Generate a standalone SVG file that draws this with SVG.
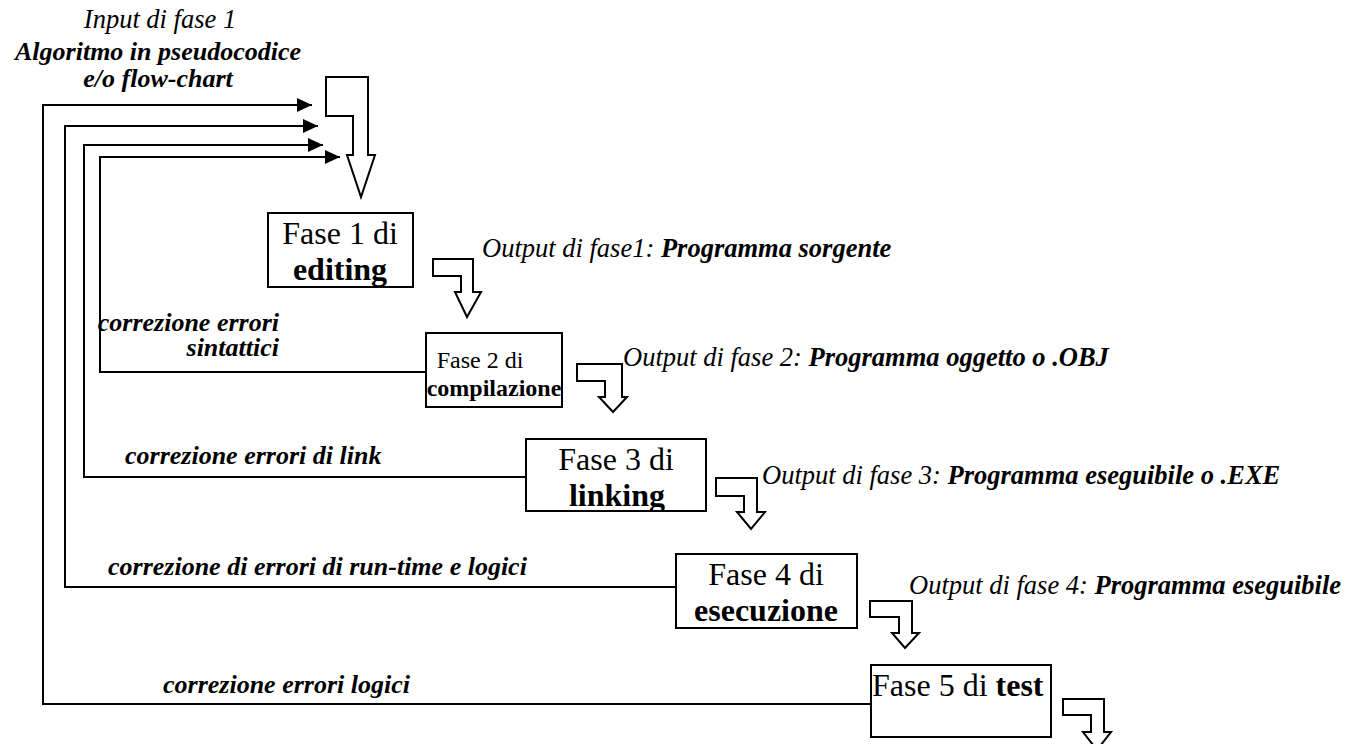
<svg xmlns="http://www.w3.org/2000/svg" width="1358" height="744" viewBox="0 0 1358 744">
<style>
.box{fill:#fff;stroke:#000;stroke-width:2}
.ln{fill:none;stroke:#000;stroke-width:2}
.arr{fill:#fff;stroke:#000;stroke-width:2;stroke-linejoin:miter}
</style>
<defs>
<marker id="ah" markerUnits="userSpaceOnUse" markerWidth="16" markerHeight="14" refX="15" refY="7" orient="auto"><path d="M0,0 L15,7 L0,14 Z" fill="#000"/></marker>
<clipPath id="c1"><rect x="269" y="214" width="143" height="72"/></clipPath>
<clipPath id="c3"><rect x="527" y="440" width="178" height="70"/></clipPath>
</defs>

<g id="input-label" font-family="Liberation Serif, serif" font-size="26" font-style="italic">
<text x="160" y="28" text-anchor="middle" font-size="26.5">Input di fase 1</text>
<text x="158" y="60" text-anchor="middle" font-weight="bold">Algoritmo in pseudocodice</text>
<text x="158" y="87" text-anchor="middle" font-weight="bold">e/o flow-chart</text>
</g>

<g id="connectors">
<path class="ln" d="M871,704 H43 V105 H312" marker-end="url(#ah)"/>
<path class="ln" d="M676,587 H65 V126 H318" marker-end="url(#ah)"/>
<path class="ln" d="M526,477 H84 V145 H323" marker-end="url(#ah)"/>
<path class="ln" d="M426,372 H100 V157 H340" marker-end="url(#ah)"/>
<path class="arr" d="M326,77 H368 V155 H375 L361,197 L347,155 H353 V116 H326 Z"/>
<path class="arr" d="M433,259 H473 V292 H481 L467,317 L455,292 H461 V276 H433 Z"/>
<path class="arr" d="M577,364 H622 V397 H627 L613,412 L599,397 H605 V381 H577 Z"/>
<path class="arr" d="M716,478 H757 V512 H765 L751,529 L737,512 H744 V496 H716 Z"/>
<path class="arr" d="M870,601 H912 V633 H919 L905,648 L892,633 H899 V617 H870 Z"/>
<path class="arr" d="M1063,699 H1104 V732 H1111 L1097,750 L1083,732 H1091 V715 H1063 Z"/>
</g>

<g id="labels" font-family="Liberation Serif, serif" font-size="26" font-style="italic">
<text x="279" y="331" text-anchor="end" font-weight="bold">correzione errori</text>
<text x="279" y="356" text-anchor="end" font-weight="bold">sintattici</text>
<text x="125" y="464" font-weight="bold">correzione errori di link</text>
<text x="108" y="575" font-weight="bold">correzione di errori di run-time e logici</text>
<text x="163" y="693" font-weight="bold">correzione errori logici</text>
<text x="482" y="257" font-size="26.5">Output di fase1: <tspan font-weight="bold">Programma sorgente</tspan></text>
<text x="623" y="366" font-size="26.5">Output di fase 2: <tspan font-weight="bold">Programma oggetto o .OBJ</tspan></text>
<text x="762" y="484" font-size="26.5">Output di fase 3: <tspan font-weight="bold">Programma eseguibile o .EXE</tspan></text>
<text x="909" y="594" font-size="26.5">Output di fase 4: <tspan font-weight="bold">Programma eseguibile</tspan></text>
</g>

<g id="fase1" font-family="Liberation Serif, serif" font-size="32">
<rect class="box" x="268" y="213" width="145" height="74"/>
<g clip-path="url(#c1)">
<text x="340" y="244" text-anchor="middle">Fase 1 di</text>
<text x="340" y="280" text-anchor="middle" font-weight="bold">editing</text>
</g>
</g>

<g id="fase2" font-family="Liberation Serif, serif" font-size="24">
<rect class="box" x="426" y="333" width="136" height="74"/>
<text x="480" y="368" text-anchor="middle">Fase 2 di</text>
<text x="494" y="396" text-anchor="middle" font-weight="bold">compilazione</text>
</g>

<g id="fase3" font-family="Liberation Serif, serif" font-size="32">
<rect class="box" x="526" y="439" width="180" height="72"/>
<g clip-path="url(#c3)">
<text x="616" y="470" text-anchor="middle">Fase 3 di</text>
<text x="617" y="506" text-anchor="middle" font-weight="bold">linking</text>
</g>
</g>

<g id="fase4" font-family="Liberation Serif, serif" font-size="32">
<rect class="box" x="676" y="554" width="181" height="74"/>
<text x="766" y="585" text-anchor="middle">Fase 4 di</text>
<text x="766" y="621" text-anchor="middle" font-weight="bold">esecuzione</text>
</g>

<g id="fase5" font-family="Liberation Serif, serif" font-size="32">
<rect class="box" x="871" y="665" width="180" height="72"/>
<text x="872" y="696">Fase 5 di <tspan font-weight="bold">test</tspan></text>
</g>
</svg>
